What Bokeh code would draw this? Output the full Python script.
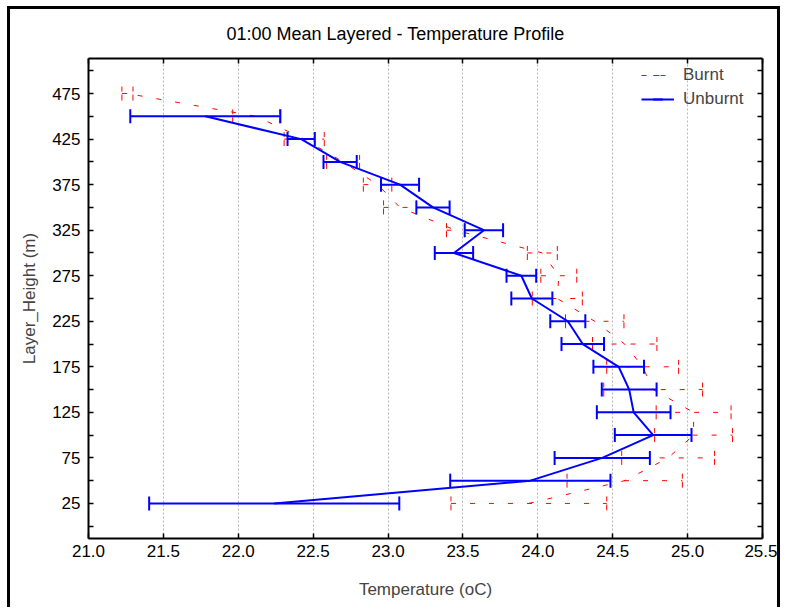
import numpy as np
from bokeh.plotting import figure
from bokeh.models import (LinearAxis, FixedTicker, Range1d, Legend, LegendItem,
                          NumeralTickFormatter)
from bokeh.embed import file_html
from bokeh.resources import INLINE

# ---------------- data ----------------
heights_unburnt = [25, 50, 75, 100, 125, 150, 175, 200, 225, 250, 275, 300,
                   325, 350, 375, 400, 425, 450]
temp_unburnt = [22.24, 23.95, 24.43, 24.77, 24.64, 24.61, 24.54, 24.30, 24.20,
                23.96, 23.89, 23.44, 23.64, 23.30, 23.08, 22.68, 22.42, 21.78]
err_unburnt = [0.835, 0.535, 0.318, 0.256, 0.246, 0.183, 0.169, 0.142, 0.117,
               0.137, 0.099, 0.128, 0.128, 0.111, 0.127, 0.111, 0.091, 0.501]

heights_burnt = [25, 50, 75, 100, 125, 150, 175, 200, 225, 250, 275, 300,
                 325, 350, 375, 400, 425, 450, 475]
temp_burnt = [23.94, 24.58, 24.87, 25.04, 25.04, 24.77, 24.70, 24.58, 24.38,
              24.13, 24.14, 24.03, 23.45, 23.08, 22.93, 22.70, 22.44, 22.12, 21.26]
err_burnt = [0.52, 0.385, 0.31, 0.26, 0.25, 0.33, 0.24, 0.215, 0.195,
             0.167, 0.12, 0.10, 0.06, 0.11, 0.095, 0.11, 0.134, 0.157, 0.037]

x_ticks = [21.0, 21.5, 22.0, 22.5, 23.0, 23.5, 24.0, 24.5, 25.0, 25.5]
y_label_ticks = [25, 75, 125, 175, 225, 275, 325, 375, 425, 475]
y_minor_ticks = [0, 50, 100, 150, 200, 250, 300, 350, 400, 450, 500]

title_text = "01:00 Mean Layered - Temperature Profile"
x_title = "Temperature (oC)"
y_title = "Layer_Height (m)"
series_names = ["Burnt", "Unburnt"]

FONT = "Liberation Sans"
BLUE = "#0000ff"
RED = "#ff0000"

# ---------------- figure ----------------
p = figure(width=773, height=601,
           x_range=Range1d(21.0, 25.5), y_range=Range1d(-13.5, 513.5),
           output_backend="svg", toolbar_location=None,
           min_border_left=78, min_border_right=21,
           min_border_top=49, min_border_bottom=72)
p.styles = {"margin-left": "7px", "margin-top": "6px",
            "border-left": "3px solid black", "border-top": "3px solid black",
            "border-right": "3px solid black"}
p.outline_line_color = None
p.background_fill_color = "white"
p.border_fill_color = "white"

p.title.text = title_text
p.title.align = "left"
p.title.offset = 138
p.title.vertical_align = "top"
p.title.text_font = FONT
p.title.text_font_size = "18px"
p.title.text_font_style = "normal"
p.title.text_color = "black"
p.title.standoff = 26

xt = FixedTicker(ticks=x_ticks, minor_ticks=[])
yt = FixedTicker(ticks=y_label_ticks, minor_ticks=y_minor_ticks)
# tick-only axes: use minor ticks so that no labels are drawn
xt_top = FixedTicker(ticks=[], minor_ticks=x_ticks)
yt_right = FixedTicker(ticks=[], minor_ticks=sorted(y_label_ticks + y_minor_ticks))


def style_axis(ax):
    ax.axis_line_width = 2
    ax.axis_line_color = "black"
    ax.major_tick_in = 5
    ax.major_tick_out = 0
    ax.major_tick_line_width = 1.5
    ax.minor_tick_in = 5
    ax.minor_tick_out = 0
    ax.minor_tick_line_width = 1.5
    ax.major_label_text_font = FONT
    ax.major_label_text_color = "black"
    ax.major_label_text_font_size = "17px"


# bottom axis
xa = p.xaxis[0]
xa.ticker = xt
xa.formatter = NumeralTickFormatter(format="0.0")
style_axis(xa)
xa.minor_tick_line_color = None
xa.major_label_standoff = 6
xa.axis_label = x_title
xa.axis_label_text_font = FONT
xa.axis_label_text_font_size = "17px"
xa.axis_label_text_font_style = "normal"
xa.axis_label_standoff = 20

# left axis
ya = p.yaxis[0]
ya.ticker = yt
style_axis(ya)
ya.major_label_standoff = 8
ya.axis_label = y_title
ya.axis_label_text_font = FONT
ya.axis_label_text_font_size = "17px"
ya.axis_label_text_font_style = "normal"
ya.axis_label_standoff = 10

# top and right axes (ticks only)
top = LinearAxis(ticker=xt_top)
style_axis(top)
top.major_label_standoff = 0
p.add_layout(top, "above")
right = LinearAxis(ticker=yt_right)
style_axis(right)
right.major_label_standoff = 0
p.add_layout(right, "right")

# grid
p.xgrid.ticker = xt
p.xgrid.grid_line_color = "#b8b8b8"
p.xgrid.grid_line_dash = "2 2"
p.xgrid.grid_line_width = 1
p.ygrid.visible = False

# ---------------- series ----------------
hb = np.array(heights_burnt, dtype=float)
tb = np.array(temp_burnt)
eb = np.array(err_burnt)
hu = np.array(heights_unburnt, dtype=float)
tu = np.array(temp_unburnt)
eu = np.array(err_unburnt)

# Burnt (red, dashed)
r_seg_b = p.segment(x0=tb - eb, y0=hb, x1=tb + eb, y1=hb,
                    line_color=RED, line_width=1, line_dash="5 14")
r_cap_b = p.scatter(x=np.concatenate([tb - eb, tb + eb]),
                    y=np.concatenate([hb, hb]),
                    marker="dash", angle=np.pi / 2, size=14,
                    line_color=RED, line_width=1, line_dash="6 3")
r_line_b = p.line(x=tb, y=hb, line_color=RED, line_width=1, line_dash="5 14")

# Unburnt (blue, solid)
r_seg_u = p.segment(x0=tu - eu, y0=hu, x1=tu + eu, y1=hu,
                    line_color=BLUE, line_width=2)
r_cap_u = p.scatter(x=np.concatenate([tu - eu, tu + eu]),
                    y=np.concatenate([hu, hu]),
                    marker="dash", angle=np.pi / 2, size=14,
                    line_color=BLUE, line_width=2)
r_line_u = p.line(x=tu, y=hu, line_color=BLUE, line_width=2)

legend = Legend(items=[
    LegendItem(label=series_names[0], renderers=[r_line_b, r_cap_b]),
    LegendItem(label=series_names[1], renderers=[r_line_u, r_cap_u]),
], location=(553, 427), orientation="vertical",
    border_line_color=None, background_fill_alpha=0,
    padding=0, margin=0, spacing=0,
    glyph_width=33, glyph_height=24, label_height=24, label_standoff=9,
    label_text_font=FONT, label_text_font_size="17px")
p.add_layout(legend)

open("out.html", "w").write(file_html(p, INLINE))
